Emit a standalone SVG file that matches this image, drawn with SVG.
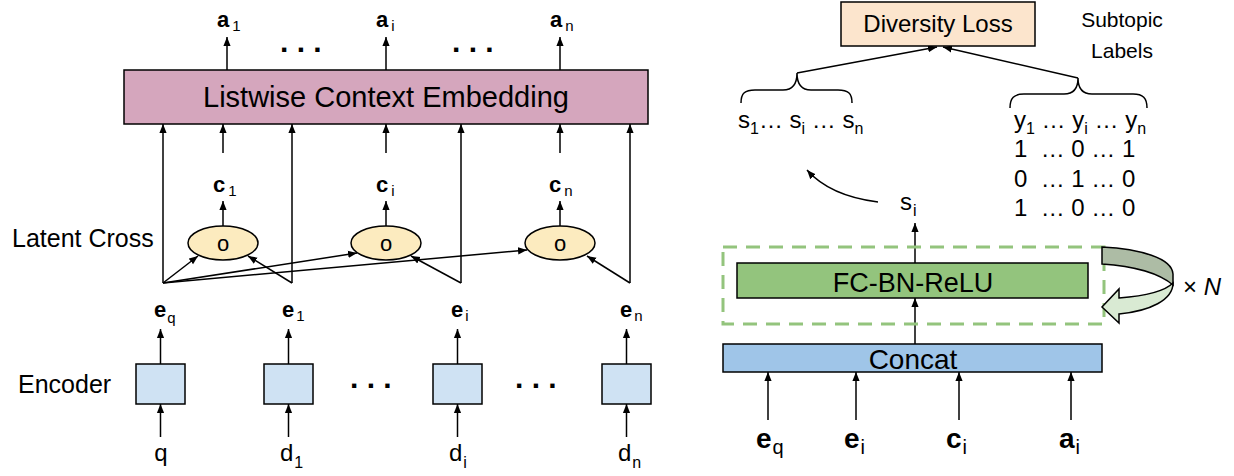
<svg xmlns="http://www.w3.org/2000/svg" width="1234" height="476" viewBox="0 0 1234 476">
  <defs>
    <marker id="ah" viewBox="0 0 10 10" refX="10" refY="5" markerWidth="9" markerHeight="9" markerUnits="userSpaceOnUse" orient="auto">
      <path d="M0,1 L10,5 L0,9 Z" fill="#000"/>
    </marker>
    <style>
      text { font-family: "Liberation Sans", Arial, sans-serif; fill: #000; }
      .lbl { font-size: 22px; }
      .row { font-size: 24px; }
      .vec { font-size: 22px; font-weight: bold; }
      .sub { font-size: 15px; font-weight: normal; }
      .sub2 { font-size: 16px; font-weight: normal; }
      .big { font-size: 28px; font-weight: bold; }
      .bigsub { font-size: 20px; font-weight: normal; }
      .dots { font-size: 30px; font-weight: bold; }
      .edge { stroke: #000; stroke-width: 1.5; fill: none; marker-end: url(#ah); }
      .box { stroke: #000; stroke-width: 1.5; }
      .brace { stroke: #000; stroke-width: 1.5; fill: none; }
    </style>
  </defs>

  <rect width="1234" height="476" fill="#fff"/>

  <!-- ===== Left: listwise context model ===== -->
  <g id="connectors-left">
    <!-- outputs a -->
    <line class="edge" x1="227" y1="70" x2="227" y2="37"/>
    <line class="edge" x1="386" y1="70" x2="386" y2="37"/>
    <line class="edge" x1="560" y1="70" x2="560" y2="37"/>
    <!-- c into embedding -->
    <line class="edge" x1="223" y1="153" x2="223" y2="124"/>
    <line class="edge" x1="386" y1="153" x2="386" y2="124"/>
    <line class="edge" x1="560" y1="153" x2="560" y2="124"/>
    <!-- cross to c -->
    <line class="edge" x1="223" y1="226" x2="223" y2="201"/>
    <line class="edge" x1="386" y1="226" x2="386" y2="201"/>
    <line class="edge" x1="560" y1="226" x2="560" y2="201"/>
    <!-- e into embedding -->
    <line class="edge" x1="163" y1="283" x2="163" y2="124"/>
    <line class="edge" x1="292" y1="283" x2="292" y2="124"/>
    <line class="edge" x1="461" y1="283" x2="461" y2="124"/>
    <line class="edge" x1="630" y1="283" x2="630" y2="124"/>
    <!-- query to each cross -->
    <line class="edge" x1="163" y1="283" x2="198" y2="256"/>
    <line class="edge" x1="163" y1="283" x2="357" y2="253"/>
    <line class="edge" x1="163" y1="283" x2="527" y2="250"/>
    <!-- documents to each cross -->
    <line class="edge" x1="292" y1="283" x2="248" y2="256"/>
    <line class="edge" x1="461" y1="283" x2="411" y2="256"/>
    <line class="edge" x1="630" y1="283" x2="587" y2="256"/>
    <!-- encoder outputs -->
    <line class="edge" x1="160.5" y1="364" x2="160.5" y2="329"/>
    <line class="edge" x1="288.5" y1="364" x2="288.5" y2="329"/>
    <line class="edge" x1="457.5" y1="364" x2="457.5" y2="329"/>
    <line class="edge" x1="626.5" y1="364" x2="626.5" y2="329"/>
    <!-- encoder inputs -->
    <line class="edge" x1="160.5" y1="437" x2="160.5" y2="404"/>
    <line class="edge" x1="288.5" y1="437" x2="288.5" y2="404"/>
    <line class="edge" x1="457.5" y1="437" x2="457.5" y2="404"/>
    <line class="edge" x1="626.5" y1="437" x2="626.5" y2="404"/>
  </g>

  <g id="listwise-embedding">
    <rect class="box" x="124" y="70" width="524" height="54" fill="#d5a6bd"/>
    <text x="386" y="107" font-size="29" text-anchor="middle">Listwise Context Embedding</text>
  </g>

  <g id="outputs-a">
    <text class="vec" x="217" y="27">a<tspan class="sub" dx="3" dy="4">1</tspan></text>
    <text class="vec" x="376" y="27">a<tspan class="sub" dx="3" dy="4">i</tspan></text>
    <text class="vec" x="550" y="27">a<tspan class="sub" dx="3" dy="4">n</tspan></text>
    <text class="dots" x="280" y="52">. . .</text>
    <text class="dots" x="452" y="52">. . .</text>
  </g>

  <g id="outputs-c">
    <text class="vec" x="213" y="192">c<tspan class="sub" dx="3" dy="4">1</tspan></text>
    <text class="vec" x="376" y="192">c<tspan class="sub" dx="3" dy="4">i</tspan></text>
    <text class="vec" x="549" y="192">c<tspan class="sub" dx="3" dy="4">n</tspan></text>
  </g>

  <g id="latent-cross">
    <text x="12" y="247" font-size="25">Latent Cross</text>
    <ellipse class="box" cx="223" cy="243" rx="35" ry="17" fill="#fcebbf"/>
    <ellipse class="box" cx="386" cy="243" rx="35" ry="17" fill="#fcebbf"/>
    <ellipse class="box" cx="560" cy="243" rx="35" ry="17" fill="#fcebbf"/>
    <text class="lbl" x="223" y="251" text-anchor="middle">o</text>
    <text class="lbl" x="386" y="251" text-anchor="middle">o</text>
    <text class="lbl" x="560" y="251" text-anchor="middle">o</text>
  </g>

  <g id="embeddings-e">
    <text class="vec" x="154" y="317">e<tspan class="sub" dx="1" dy="6">q</tspan></text>
    <text class="vec" x="282" y="317">e<tspan class="sub" dx="2" dy="4">1</tspan></text>
    <text class="vec" x="451" y="317">e<tspan class="sub" dx="2" dy="4">i</tspan></text>
    <text class="vec" x="620" y="317">e<tspan class="sub" dx="2" dy="4">n</tspan></text>
  </g>

  <g id="encoder">
    <text x="18" y="393" font-size="25">Encoder</text>
    <rect class="box" x="136" y="364" width="49" height="40" fill="#cfe2f3"/>
    <rect class="box" x="264" y="364" width="49" height="40" fill="#cfe2f3"/>
    <rect class="box" x="433" y="364" width="49" height="40" fill="#cfe2f3"/>
    <rect class="box" x="602" y="364" width="49" height="40" fill="#cfe2f3"/>
    <text class="dots" x="350" y="388">. . .</text>
    <text class="dots" x="515" y="388">. . .</text>
  </g>

  <g id="inputs">
    <text class="row" x="161" y="461" text-anchor="middle">q</text>
    <text class="row" x="280" y="461">d<tspan class="sub2" dx="1" dy="7">1</tspan></text>
    <text class="row" x="449" y="461">d<tspan class="sub2" dx="1" dy="7">i</tspan></text>
    <text class="row" x="618" y="461">d<tspan class="sub2" dx="1" dy="7">n</tspan></text>
  </g>

  <!-- ===== Right: scoring network with diversity loss ===== -->
  <g id="connectors-right">
    <line class="edge" x1="797" y1="73" x2="937" y2="47"/>
    <line class="edge" x1="1078" y1="78" x2="943" y2="47"/>
    <path class="edge" d="M878,202 Q830,196 807,170"/>
    <line class="edge" x1="915" y1="263" x2="915" y2="223"/>
    <line class="edge" x1="915" y1="344" x2="915" y2="298"/>
    <line class="edge" x1="768" y1="420" x2="768" y2="372"/>
    <line class="edge" x1="856" y1="420" x2="856" y2="372"/>
    <line class="edge" x1="959" y1="420" x2="959" y2="372"/>
    <line class="edge" x1="1071" y1="420" x2="1071" y2="372"/>
  </g>

  <g id="diversity-loss">
    <rect class="box" x="841" y="2" width="194" height="44" fill="#fce5cd"/>
    <text x="938" y="32" font-size="24" text-anchor="middle">Diversity Loss</text>
  </g>

  <g id="subtopic-labels">
    <text x="1122" y="27" font-size="21" text-anchor="middle">Subtopic</text>
    <text x="1122" y="58" font-size="21" text-anchor="middle">Labels</text>
  </g>

  <g id="scores">
    <path class="brace" d="M741,103 C741,93 745,90 755,90 L783,90 C792,90 797,85 797,73 C797,85 802,90 811,90 L838,90 C848,90 852,93 852,103"/>
    <text class="row" x="738" y="128" xml:space="preserve">s<tspan class="sub2" dy="6">1</tspan><tspan dy="-6">… s</tspan><tspan class="sub2" dy="6">i</tspan><tspan dy="-6"> … s</tspan><tspan class="sub2" dy="6">n</tspan></text>
  </g>

  <g id="labels-matrix">
    <path class="brace" d="M1010,108 C1010,98 1014,94 1024,94 L1064,94 C1073,94 1078,89 1078,78 C1078,89 1083,94 1092,94 L1133,94 C1143,94 1147,98 1147,108"/>
    <text class="row" x="1014" y="128" xml:space="preserve">y<tspan class="sub2" dy="6">1</tspan><tspan dy="-6"> … y</tspan><tspan class="sub2" dy="6">i</tspan><tspan dy="-6"> … y</tspan><tspan class="sub2" dy="6">n</tspan></text>
    <text class="row" x="1014" y="157" xml:space="preserve">1  … 0 … 1</text>
    <text class="row" x="1014" y="187" xml:space="preserve">0  … 1 … 0</text>
    <text class="row" x="1014" y="216" xml:space="preserve">1  … 0 … 0</text>
  </g>

  <g id="score-si">
    <text class="row" x="900" y="210">s<tspan class="sub2" dx="1" dy="6">i</tspan></text>
  </g>

  <g id="fc-block">
    <rect x="723" y="247" width="381" height="77" fill="none" stroke="#93c47d" stroke-width="3" stroke-dasharray="14 9"/>
    <rect class="box" x="737" y="263" width="351" height="35" fill="#93c47d"/>
    <text x="913" y="292" font-size="27" text-anchor="middle">FC-BN-ReLU</text>
  </g>

  <g id="repeat">
    <path d="M1102,247 C1140,249 1172,258 1173,274 L1173,285 C1160,274 1135,266 1102,264 Z" fill="#adbca5" stroke="#000" stroke-width="1.5"/>
    <path d="M1173,283 C1173,300 1150,311 1119,314 L1119,323 L1102,307 L1119,289 L1119,298 C1145,296 1165,291 1173,283 Z" fill="#d9ead3" stroke="#000" stroke-width="1.5"/>
    <text x="1183" y="295" font-size="24">× <tspan font-style="italic">N</tspan></text>
  </g>

  <g id="concat">
    <rect class="box" x="723" y="344" width="379" height="28" fill="#9fc5e8"/>
    <text x="913" y="369" font-size="28" text-anchor="middle">Concat</text>
  </g>

  <g id="concat-inputs">
    <text class="big" x="756" y="448">e<tspan class="bigsub" dx="1" dy="6">q</tspan></text>
    <text class="big" x="844" y="448">e<tspan class="bigsub" dx="1" dy="6">i</tspan></text>
    <text class="big" x="946" y="448">c<tspan class="bigsub" dx="1" dy="6">i</tspan></text>
    <text class="big" x="1059" y="448">a<tspan class="bigsub" dx="1" dy="6">i</tspan></text>
  </g>
</svg>
